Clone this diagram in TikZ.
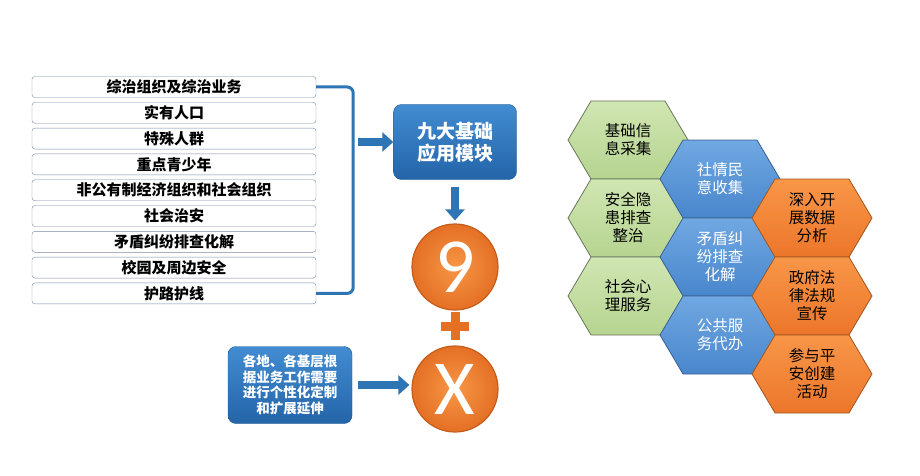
\documentclass[tikz,border=0pt]{standalone}
\usepackage{fontspec}
\setmainfont{Noto Sans CJK SC}
\newfontfamily\numfont{Carlito}
\usetikzlibrary{arrows.meta}

\definecolor{arrblue}{RGB}{46,117,182}
\definecolor{itemline}{RGB}{120,138,165}
\definecolor{boxtop}{RGB}{66,140,210}
\definecolor{boxbot}{RGB}{36,100,168}
\definecolor{boxline}{RGB}{32,86,145}
\definecolor{ballin}{RGB}{247,150,70}
\definecolor{ballout}{RGB}{228,112,36}
\definecolor{balledge}{RGB}{196,92,28}
\definecolor{hgtop}{RGB}{208,230,178}
\definecolor{hgbot}{RGB}{182,212,144}
\definecolor{hgline}{RGB}{105,118,92}
\definecolor{hbtop}{RGB}{112,168,226}
\definecolor{hbbot}{RGB}{72,134,204}
\definecolor{hbline}{RGB}{58,96,146}
\definecolor{hotop}{RGB}{248,150,72}
\definecolor{hobot}{RGB}{236,118,42}
\definecolor{holine}{RGB}{160,86,32}

\begin{document}
\begin{tikzpicture}[x=1pt, y=-1pt]
    \tikzstyle{every node}=[inner sep=0pt]
    \tikzstyle{item}=[draw=itemline, fill=white, rounded corners=3pt, minimum width=284pt, minimum height=21pt, font=\bfseries\fontsize{15}{15}\selectfont]
    \tikzstyle{bluebox}=[rounded corners=8pt, draw=boxline, top color=boxtop, bottom color=boxbot, text=white, align=center]
    \tikzstyle{ball}=[circle, minimum size=86pt, draw=balledge, line width=1.2pt, inner color=ballin, outer color=ballout, text=white, font=\numfont\fontsize{78}{78}\selectfont]
    \tikzstyle{fat arrow}=[draw=arrblue, line width=8pt, -{Triangle[length=11pt,width=19pt]}]
    \tikzstyle{hex}=[line width=0.8pt, line join=miter]
    \tikzstyle{hextext}=[align=center, font=\fontsize{15.5}{18}\selectfont]
    \useasboundingbox (0,0) rectangle (920,476);

    % list of the nine modules
    \foreach \t [count=\i] in {综治组织及综治业务, 实有人口, 特殊人群, 重点青少年, 非公有制经济组织和社会组织, 社会治安, 矛盾纠纷排查化解, 校园及周边安全, 护路护线}
        \node [item] (l\i) at (174,{87+25.8*(\i-1)}) {\t};
    \draw [arrblue, line width=3pt, rounded corners=6pt] (l1.east) -- ++(37,0) |- (l9.east);

    \node [bluebox, minimum width=123pt, minimum height=75pt, font=\bfseries\fontsize{19}{22}\selectfont] (jiu) at (455,142) {九大基础\\应用模块};
    \node [bluebox, minimum width=124pt, minimum height=77pt, font=\bfseries\fontsize{13.5}{15.5}\selectfont] (local) at (290,385) {各地、各基层根\\据业务工作需要\\进行个性化定制\\和扩展延伸};
    \node [ball] (nine) at (455,267) {9};
    \node [ball] (x) at (455,389) {X};
    \node [minimum size=27pt] (plus) at (455,326) {};
    \fill [ballout] ([yshift=-4.5pt]plus.west) rectangle ([yshift=4.5pt]plus.east);
    \fill [ballout] ([xshift=-4.5pt]plus.north) rectangle ([xshift=4.5pt]plus.south);

    \coordinate (a1) at (358,142);
    \draw [fat arrow] (a1) -- (jiu.west);
    \draw [fat arrow, shorten <=7pt, shorten >=3pt] (jiu) -- (nine);
    \draw [fat arrow, shorten <=6pt, shorten >=2pt] (local.east) -- (x.west |- local.east);

    % honeycomb of applications
    \foreach \n/\x/\y/\c/\tc/\t in {g1/628/140/hg/black/{基础信\\息采集}, g2/628/218/hg/black/{安全隐\\患排查\\整治}, g3/628/296/hg/black/{社会心\\理服务},
        b1/720/179/hb/white/{社情民\\意收集}, b2/720/257/hb/white/{矛盾纠\\纷排查\\化解}, b3/720/335/hb/white/{公共服\\务代办},
        o1/812/218/ho/black/{深入开\\展数据\\分析}, o2/812/296/ho/black/{政府法\\律法规\\宣传}, o3/812/374/ho/black/{参与平\\安创建\\活动}}
    {
        \draw [hex, draw=\c line, top color=\c top, bottom color=\c bot] (\x,\y) +(-60,0) -- +(-37,-39) -- +(37,-39) -- +(60,0) -- +(37,39) -- +(-37,39) -- cycle;
        \node [hextext, text=\tc] (\n) at (\x,\y) {\t};
    }
\end{tikzpicture}
\end{document}
